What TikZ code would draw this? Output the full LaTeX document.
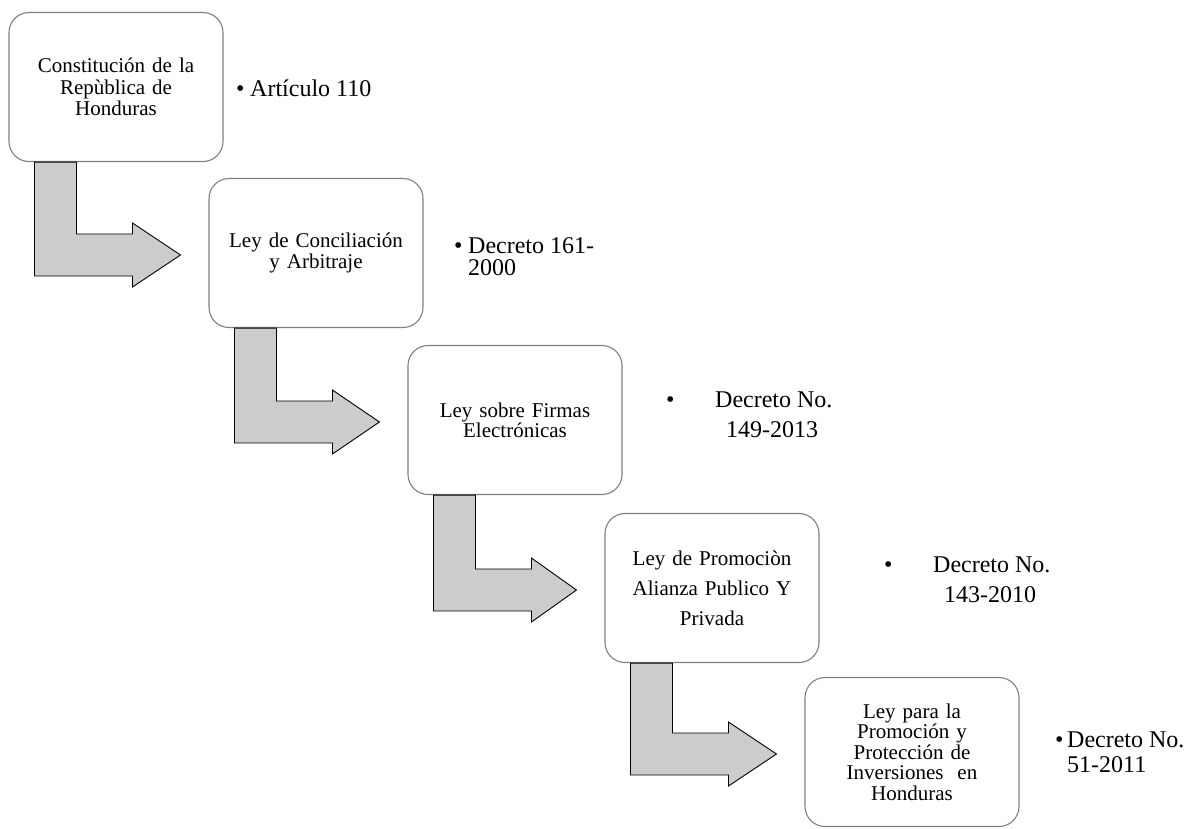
\documentclass[tikz,border=0pt]{standalone}
\usepackage{fontspec}
\setmainfont{Liberation Serif}
\usetikzlibrary{calc}
\definecolor{boxline}{RGB}{128,128,128}
\definecolor{arrowfill}{RGB}{204,204,204}
\tikzset{
  stepbox/.style={draw=boxline, line width=1.1pt, rounded corners=20pt, fill=white,
    minimum width=214pt, minimum height=149pt, inner sep=0pt, text width=200pt,
    align=center, font=\fontsize{21}{21.5}\selectfont},
  sidetext/.style={anchor=west, inner sep=0pt, align=left, font=\fontsize{24}{26}\selectfont},
  bentsty/.style={draw=black, line width=0.9pt, fill=arrowfill, line join=miter}
}
\newcommand\bentarrow[2]{%
  \draw[bentsty] let \p1=(#1.south west), \p2=(#2.west) in
    (\x1+26pt,\y1) -- (\x1+68pt,\y1) -- (\x1+68pt,\y2+19pt) -- (\x1+124pt,\y2+19pt)
    -- (\x1+124pt,\y2+30pt) -- (\x2-28pt,\y2-2pt) -- (\x1+124pt,\y2-34pt)
    -- (\x1+124pt,\y2-23pt) -- (\x1+26pt,\y2-23pt) -- cycle;}
\begin{document}
\begin{tikzpicture}[x=1pt,y=-1pt]
\fill[white] (0,0) rectangle (1202,828);
\path[use as bounding box] (0,0) rectangle (1202,828);

% boxes
\node[stepbox] (b1) at (116,87) {Constitución de la\\Repùblica de\\Honduras};
\node[stepbox] (b2) at (316,253) {Ley de Conciliación\\y Arbitraje};
\node[stepbox, font=\fontsize{21}{20}\selectfont] (b3) at (515,420) {Ley sobre Firmas\\Electrónicas};
\node[stepbox, font=\fontsize{21}{30}\selectfont] (b4) at (712,588) {Ley de Promociòn\\Alianza Publico Y\\Privada};
\node[stepbox, font=\fontsize{21}{20.5}\selectfont] (b5) at (912,752) {Ley para la\\Promoción y\\Protección de\\Inversiones\ \ en\\Honduras};

% bent arrows
\bentarrow{b1}{b2}
\bentarrow{b2}{b3}
\bentarrow{b3}{b4}
\bentarrow{b4}{b5}

% side texts
\node[sidetext] (s1) at (236,88) {\makebox[14pt][l]{•}Artículo 110};
\node[sidetext, font=\fontsize{24}{22}\selectfont] (s2) at (454,257) {\makebox[14pt][l]{•}Decreto 161-\\\hspace*{14pt}2000};
\node[sidetext, font=\fontsize{24}{30}\selectfont] (s3) at (666,415) {\makebox[49pt][l]{•}Decreto No.\\\hspace*{60pt}149-2013};
\node[sidetext, font=\fontsize{24}{30}\selectfont] (s4) at (884,580) {\makebox[49pt][l]{•}Decreto No.\\\hspace*{60pt}143-2010};
\node[sidetext, font=\fontsize{24}{25}\selectfont] (s5) at (1055,752) {\makebox[12pt][l]{•}Decreto No.\\\hspace*{12pt}51-2011};
\end{tikzpicture}
\end{document}
